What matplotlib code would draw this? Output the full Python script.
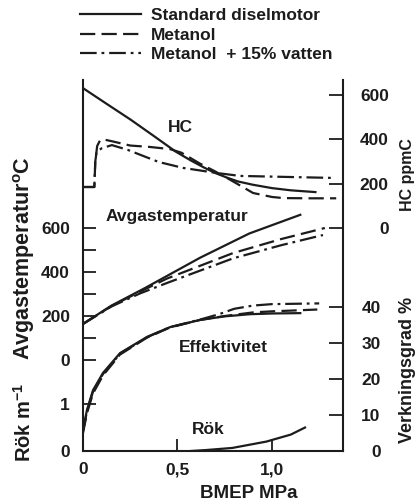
import matplotlib.pyplot as plt

plt.rcParams['font.family'] = ['Liberation Sans', 'DejaVu Sans']
plt.rcParams['font.weight'] = 'bold'
plt.rcParams['mathtext.default'] = 'regular'
plt.rcParams['lines.scale_dashes'] = False

# --- data (BMEP in MPa) ---
series_names = ['Standard diselmotor', 'Metanol', 'Metanol  + 15% vatten']

# HC, ppmC
hc_std_x = [0, 0.12, 0.25, 0.37, 0.49, 0.57, 0.64, 0.7, 0.76, 0.82, 0.9, 1.0, 1.1, 1.23]
hc_std_y = [631, 563, 490, 418, 345, 305, 273, 248, 228, 210, 195, 180, 170, 162]
hc_met_x = [0, 0.06, 0.065, 0.075, 0.09, 0.106, 0.15, 0.25, 0.35, 0.46, 0.52, 0.62, 0.7, 0.78, 0.9, 1.0, 1.06, 1.2, 1.34]
hc_met_y = [185, 185, 300, 370, 395, 400, 392, 372, 366, 356, 340, 290, 255, 217, 158, 140, 135, 134, 134]
hc_vat_x = [0, 0.06, 0.065, 0.072, 0.1, 0.153, 0.238, 0.4, 0.53, 0.71, 0.83, 1.1, 1.32]
hc_vat_y = [185, 185, 300, 345, 360, 374, 352, 298, 271, 248, 235, 230, 226]

# Avgastemperatur, deg C
t_std_x = [0, 0.15, 0.33, 0.62, 0.88, 1.15]
t_std_y = [164, 247, 328, 465, 575, 660]
t_met_x = [0, 0.15, 0.3, 0.444, 0.794, 1.05, 1.28]
t_met_y = [164, 245, 310, 370, 486, 550, 600]
t_vat_x = [0, 0.15, 0.3, 0.444, 0.794, 1.05, 1.27]
t_vat_y = [164, 243, 302, 350, 462, 522, 568]

# Verkningsgrad, %
e_std_x = [0, 0.021, 0.053, 0.106, 0.196, 0.339, 0.46, 0.619, 0.75, 0.884, 1.0, 1.15]
e_std_y = [5.8, 11.4, 16.9, 21.7, 27.2, 31.7, 34.4, 36.4, 37.4, 38.0, 38.2, 38.3]
e_met_x = [0, 0.021, 0.053, 0.106, 0.196, 0.339, 0.46, 0.619, 0.75, 0.9, 1.0, 1.1, 1.24]
e_met_y = [5.0, 10.5, 16.0, 21.0, 26.8, 31.5, 34.3, 36.4, 37.5, 38.5, 38.8, 39.0, 39.3]
e_vat_x = [0, 0.021, 0.053, 0.106, 0.196, 0.339, 0.46, 0.619, 0.72, 0.8, 0.9, 1.0, 1.25]
e_vat_y = [5.5, 11.0, 16.5, 21.4, 27.0, 31.6, 34.4, 36.5, 38.0, 39.5, 40.4, 40.8, 41.0]

# Rok, 1/m
rok_x = [0.57, 0.65, 0.79, 0.97, 1.1, 1.175]
rok_y = [0, 0.02, 0.065, 0.2, 0.35, 0.5]

ink = '#1c1c1c'
lw = 1.6
styles = ['-', (0, (11, 4.5)), (0, (12, 3.5, 2, 3.5))]

fig = plt.figure(figsize=(4.15, 5.01), dpi=100)
rect = [83 / 415, 1 - 451 / 501, 260 / 415, 371 / 501]

ax_e = fig.add_axes(rect)
ax_t = fig.add_axes(rect, sharex=ax_e)
ax_r = fig.add_axes(rect, sharex=ax_e)
ax_hc = fig.add_axes(rect, sharex=ax_e)

for ax in (ax_t, ax_r, ax_hc):
    ax.patch.set_visible(False)
    for s in ax.spines.values():
        s.set_visible(False)
    ax.xaxis.set_visible(False)

for s in ('left', 'right', 'bottom'):
    ax_e.spines[s].set_linewidth(1.5)
    ax_e.spines[s].set_color(ink)
ax_e.spines['top'].set_visible(False)

# plot curves
for ax, xs, ys in [
    (ax_hc, [hc_std_x, hc_met_x, hc_vat_x], [hc_std_y, hc_met_y, hc_vat_y]),
    (ax_t, [t_std_x, t_met_x, t_vat_x], [t_std_y, t_met_y, t_vat_y]),
]:
    for x, y, ls in zip(xs, ys, styles):
        ax.plot(x, y, color=ink, lw=lw, linestyle=ls)

handles = []
for x, y, ls in zip([e_std_x, e_met_x, e_vat_x], [e_std_y, e_met_y, e_vat_y], styles):
    line, = ax_e.plot(x, y, color=ink, lw=lw, linestyle=ls)
    handles.append(line)
ax_r.plot(rok_x, rok_y, color=ink, lw=lw, linestyle='-')

# scales, chosen so every sub-scale lands where it sits in the original
ax_e.set_xlim(0, 1.376)
ax_e.set_ylim(0, 103.06)
ax_t.set_ylim(-413.6, 1272.7)
ax_r.set_ylim(0, 7.9)
ax_hc.set_ylim(-1006, 667.7)

tick_kw = dict(direction='in', width=1.3, color=ink, labelsize=12.5, labelcolor=ink)

ax_e.set_xticks([0, 0.5, 1.0], ['0', '0,5', '1,0'])
ax_e.tick_params(axis='x', length=9, pad=8, **tick_kw)

ax_t.set_yticks([0, 100, 200, 300, 400, 500, 600], ['0', '', '200', '', '400', '', '600'])
ax_t.tick_params(axis='y', length=9, pad=9.4, **tick_kw)
ax_r.set_yticks([0, 1], ['0', '1'])
ax_r.tick_params(axis='y', length=9, pad=9.4, **tick_kw)

ax_hc.yaxis.tick_right()
ax_hc.set_yticks([0, 200, 400, 600], ['0', '200', '400', '600'], ha='right')
ax_hc.tick_params(axis='y', length=10, pad=33, **tick_kw)
ax_e.yaxis.tick_right()
ax_e.set_yticks([0, 10, 20, 30, 40], ['0', '10', '20', '30', '40'], ha='right')
ax_e.tick_params(axis='y', length=10, pad=27, **tick_kw)

# axis titles
fig.text(249 / 415, 1 - 493 / 501, 'BMEP MPa', ha='center', va='center', fontsize=13.5, color=ink)
fig.text(24 / 415, 1 - 258 / 501, 'Avgastemperatur$^{o}$C', rotation=90, ha='center', va='center',
         fontsize=15.5, color=ink)
fig.text(24 / 415, 1 - 422 / 501, 'Rök m$^{-1}$', rotation=90, ha='center', va='center',
         fontsize=14.5, color=ink)
fig.text(407 / 415, 1 - 175 / 501, 'HC ppmC', rotation=90, ha='center', va='center',
         fontsize=11.5, color=ink)
fig.text(407 / 415, 1 - 370 / 501, 'Verkningsgrad %', rotation=90, ha='center', va='center',
         fontsize=13, color=ink)

# inline curve names
for txt, px, py in [('HC', 180, 127), ('Avgastemperatur', 177, 217),
                    ('Effektivitet', 223, 347), ('Rök', 208, 430)]:
    fig.text(px / 415, 1 - py / 501, txt, ha='center', va='center', fontsize=12.5, color=ink)

fig.legend(handles, series_names, loc='upper left', bbox_to_anchor=(80 / 415, 1 - 8 / 501),
           frameon=False, handlelength=3.5, handletextpad=0.6, labelspacing=0.25,
           borderpad=0, borderaxespad=0, fontsize=12.5, labelcolor=ink)

fig.savefig('out.png', dpi=100)
